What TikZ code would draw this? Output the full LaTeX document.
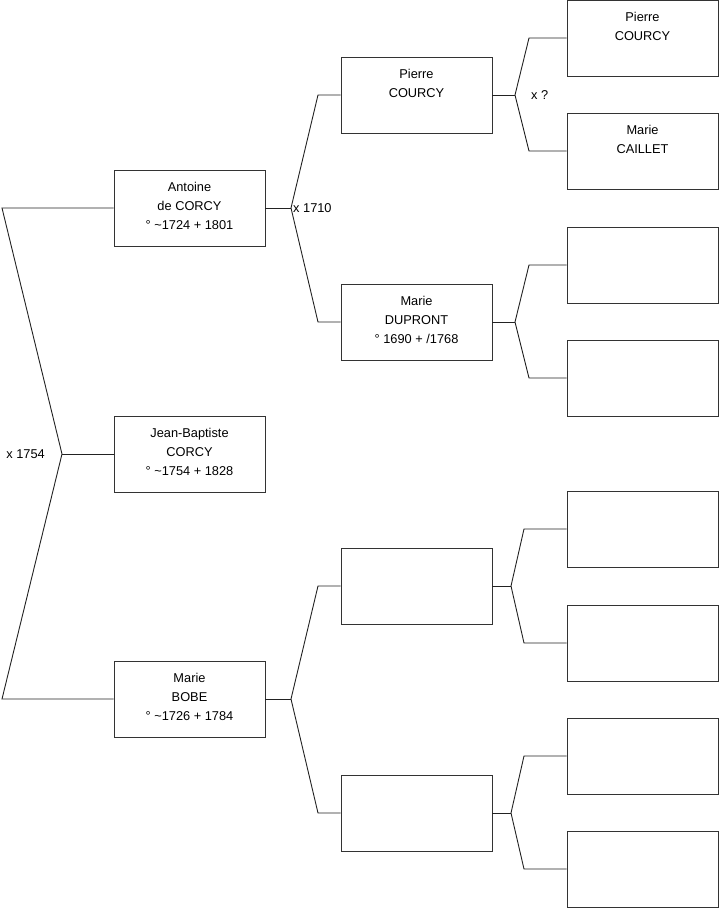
\documentclass[tikz,border=0pt]{standalone}
\usepackage{fontspec}
\setmainfont{Liberation Sans}
\usepackage{tikz}
\usetikzlibrary{positioning}
\definecolor{boxline}{HTML}{333333}
\definecolor{linkline}{HTML}{222222}
\newcommand{\lowstrut}{\rule[-5pt]{0pt}{5pt}}

\begin{document}
\begin{tikzpicture}[
  x=1pt,y=-1pt,
  person/.style={rectangle,draw=boxline,line width=0.9pt,fill=white,minimum width=151pt,minimum height=76pt,
    inner sep=0pt,align=center,font=\fontsize{12.8}{19}\selectfont},
  link/.style={draw=linkline,line width=0.9pt,line join=miter},
  mariage/.style={font=\fontsize{12.8}{15}\selectfont,inner sep=0pt},
]
  \useasboundingbox (0,0) rectangle (719,908);
  % generation 1 and 2
  \node[person] (jb) at (189.5,454) {Jean-Baptiste\\CORCY\\° \textasciitilde1754 + 1828\lowstrut};
  \node[person] (antoine) at (189.5,208) {Antoine\\de CORCY\\° \textasciitilde1724 + 1801\lowstrut};
  \node[person] (bobe) at (189.5,699) {Marie\\BOBE\\° \textasciitilde1726 + 1784\lowstrut};
  % generation 3
  \node[person] (pierre) at (416.5,95) {Pierre\\COURCY\\~\lowstrut};
  \node[person] (dupront) at (416.5,322) {Marie\\DUPRONT\\° 1690 + /1768\lowstrut};
  \node[person] (p3c) at (416.5,586) {};
  \node[person] (p3d) at (416.5,813) {};
  % generation 4
  \node[person] (pierre2) at (642.5,38) {Pierre\\COURCY\\~\lowstrut};
  \node[person] (caillet) at (642.5,151) {Marie\\CAILLET\\~\lowstrut};
  \node[person] (p4c) at (642.5,265) {};
  \node[person] (p4d) at (642.5,378) {};
  \node[person] (p4e) at (642.5,529) {};
  \node[person] (p4f) at (642.5,643) {};
  \node[person] (p4g) at (642.5,756) {};
  \node[person] (p4h) at (642.5,869) {};

  % forks
  \coordinate (f0) at (62,454);   \coordinate (c0a) at (2,208);   \coordinate (c0b) at (2,699);
  \coordinate (f1) at (291,208);  \coordinate (c1a) at (318,95);  \coordinate (c1b) at (318,322);
  \coordinate (f2) at (291,699);  \coordinate (c2a) at (318,586); \coordinate (c2b) at (318,813);
  \coordinate (f3) at (515,95);   \coordinate (c3a) at (529,38);  \coordinate (c3b) at (529,151);
  \coordinate (f4) at (515,322);  \coordinate (c4a) at (529,265); \coordinate (c4b) at (529,378);
  \coordinate (f5) at (511,586);  \coordinate (c5a) at (524,529); \coordinate (c5b) at (524,643);
  \coordinate (f6) at (511,813);  \coordinate (c6a) at (524,756); \coordinate (c6b) at (524,869);

  \draw[link] (jb.west) -- (f0);
  \draw[link] (antoine.west) -- (c0a) -- (f0) -- (c0b) -- (bobe.west);
  \draw[link] (antoine.east) -- (f1);
  \draw[link] (pierre.west) -- (c1a) -- (f1) -- (c1b) -- (dupront.west);
  \draw[link] (bobe.east) -- (f2);
  \draw[link] (p3c.west) -- (c2a) -- (f2) -- (c2b) -- (p3d.west);
  \draw[link] (pierre.east) -- (f3);
  \draw[link] (pierre2.west) -- (c3a) -- (f3) -- (c3b) -- (caillet.west);
  \draw[link] (dupront.east) -- (f4);
  \draw[link] (p4c.west) -- (c4a) -- (f4) -- (c4b) -- (p4d.west);
  \draw[link] (p3c.east) -- (f5);
  \draw[link] (p4e.west) -- (c5a) -- (f5) -- (c5b) -- (p4f.west);
  \draw[link] (p3d.east) -- (f6);
  \draw[link] (p4g.west) -- (c6a) -- (f6) -- (c6b) -- (p4h.west);

  \node[mariage,left=17pt of f0] (m0) {x 1754};
  \node[mariage,right=2pt of f1] (m1) {x 1710};
  \node[mariage,right=16pt of f3] (m3) {x ?};
\end{tikzpicture}
\end{document}
